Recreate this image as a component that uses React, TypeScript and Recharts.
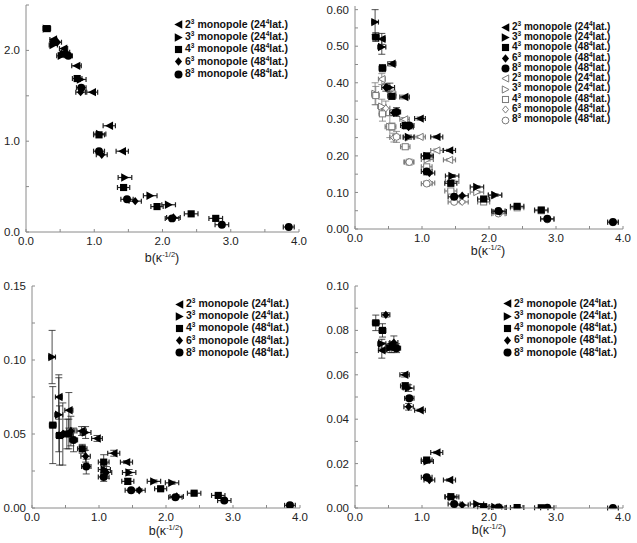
import React from 'react';
import { ScatterChart, Scatter, XAxis, YAxis, ErrorBar, Legend } from 'recharts';

const FONT = '"Liberation Sans", Arial, Helvetica, sans-serif';

// b(kappa^-1/2) positions of each monopole size
const S2_X = [0.40, 0.55, 0.74, 0.97, 1.22, 1.41];
const S3_X = [0.30, 0.40, 0.52, 0.80, 1.08, 1.45, 1.82, 2.09];
const S4_X = [0.31, 0.41, 0.55, 0.75, 1.07, 1.43, 1.92, 2.42, 2.78];
const S6_X = [0.46, 0.58, 0.80, 1.11, 1.60, 2.16];
const S8_X = [0.62, 0.81, 1.07, 1.48, 2.14, 2.87, 3.85];

// horizontal errors
const S2_XE = [0.05, 0.06, 0.07, 0.08, 0.09, 0.09];
const S3_XE = [0.05, 0.06, 0.07, 0.08, 0.09, 0.10, 0.10, 0.10];
const S4_XE = [0.05, 0.05, 0.06, 0.07, 0.08, 0.09, 0.09, 0.10, 0.10];
const S6_XE = [0.06, 0.06, 0.07, 0.08, 0.09, 0.10];
const S8_XE = [0.06, 0.07, 0.08, 0.09, 0.10, 0.10, 0.08];

// Panel 1 (top-left)
const P1_S2 = [2.12, 2.02, 1.83, 1.54, 1.17, 0.89];
const P1_S3 = [2.24, 2.06, 1.94, 1.68, 1.08, 0.60, 0.40, 0.30];
const P1_S4 = [2.24, 2.09, 1.96, 1.69, 1.07, 0.49, 0.28, 0.20, 0.15];
const P1_S6 = [2.09, 1.98, 1.54, 0.85, 0.34, 0.16];
const P1_S8 = [1.94, 1.59, 0.89, 0.36, 0.15, 0.08, 0.055];

// Panel 2 (top-right), filled
const P2_S2 = [0.52, 0.452, 0.361, 0.302, 0.252, 0.215];
const P2_S3 = [0.566, 0.498, 0.387, 0.252, 0.200, 0.145, 0.115, 0.093];
const P2_S4 = [0.525, 0.440, 0.363, 0.283, 0.200, 0.125, 0.082, 0.062, 0.052];
const P2_S6 = [0.387, 0.318, 0.279, 0.153, 0.091, 0.048];
const P2_S8 = [0.320, 0.283, 0.157, 0.088, 0.049, 0.028, 0.019];
const P2_S2_E = [0.015, 0.006, 0.005, 0.004, 0.003, 0.003];
const P2_S3_E = [0.034, 0.020, 0.012, 0.005, 0.004, 0.004, 0.003, 0.003];
const P2_S4_E = [0.012, 0.010, 0.008, 0.005, 0.004, 0.004, 0.003, 0.003, 0.002];
const P2_S6_E = [0.010, 0.008, 0.005, 0.003, 0.002, 0.002];
const P2_S8_E = [0.012, 0.006, 0.004, 0.003, 0.002, 0.002, 0.002];
// Panel 2, hollow
const P2_H2 = [0.41, 0.37, 0.30, 0.252, 0.215, 0.189];
const P2_H3 = [0.37, 0.335, 0.28, 0.25, 0.19, 0.13, 0.101, 0.092];
const P2_H4 = [0.365, 0.315, 0.28, 0.225, 0.170, 0.104, 0.074, 0.058, 0.050];
const P2_H6 = [0.33, 0.25, 0.183, 0.126, 0.074, 0.043];
const P2_H8 = [0.252, 0.183, 0.124, 0.074, 0.042, 0.026, 0.018];
const P2_H2_E = [0.015, 0.010, 0.005, 0.004, 0.004, 0.003];
const P2_H3_E = [0.030, 0.020, 0.030, 0.005, 0.004, 0.004, 0.003, 0.003];
const P2_H4_E = [0.025, 0.020, 0.010, 0.006, 0.004, 0.004, 0.003, 0.003, 0.002];
const P2_H6_E = [0.020, 0.012, 0.005, 0.004, 0.003, 0.002];
const P2_H8_E = [0.015, 0.008, 0.005, 0.003, 0.002, 0.002, 0.002];

// Panel 3 (bottom-left)
const P3_S2 = [0.075, 0.066, 0.052, 0.047, 0.037, 0.031];
const P3_S3 = [0.102, 0.063, 0.050, 0.051, 0.026, 0.024, 0.018, 0.017];
const P3_S4 = [0.056, 0.049, 0.050, 0.040, 0.031, 0.018, 0.013, 0.010, 0.0085];
const P3_S6 = [0.050, 0.052, 0.035, 0.024, 0.012, 0.0078];
const P3_S8 = [0.046, 0.028, 0.021, 0.012, 0.0072, 0.005, 0.0018];
const P3_S2_E = [0.015, 0.012, 0.003, 0.002, 0.002, 0.001];
const P3_S3_E = [0.018, 0.025, 0.010, 0.004, 0.004, 0.002, 0.001, 0.001];
const P3_S4_E = [0.026, 0.020, 0.010, 0.003, 0.005, 0.002, 0.001, 0.001, 0.001];
const P3_S6_E = [0.021, 0.010, 0.004, 0.004, 0.001, 0.001];
const P3_S8_E = [0.008, 0.005, 0.003, 0.001, 0.001, 0.001, 0.001];

// Panel 4 (bottom-right)
const P4_S2 = [0.071, 0.072, 0.060, 0.044, 0.025, 0.0126];
const P4_S3 = [null, 0.074, 0.072, 0.054, 0.021, 0.005, 0.0018, 0.0005];
const P4_S4 = [0.0834, 0.080, 0.073, 0.055, 0.0216, 0.0051, 0.0006, 0.0002, 0.0001];
const P4_S6 = [0.087, 0.0745, 0.0456, 0.0126, 0.0013, 0.0003];
const P4_S8 = [0.072, 0.0494, 0.0138, 0.0018, 0.0002, 0.0001, 0.0];
const P4_S2_E = [0.0035, 0.002, 0.001, 0.0005, 0.0005, 0.0005];
const P4_S3_E = [0, 0.002, 0.002, 0.0015, 0.0005, 0.0005, 0.0003, 0.0003];
const P4_S4_E = [0.0035, 0.003, 0.002, 0.0015, 0.0005, 0.0005, 0.0003, 0.0003, 0.0003];
const P4_S6_E = [0.001, 0.003, 0.0015, 0.0005, 0.0003, 0.0003];
const P4_S8_E = [0.002, 0.001, 0.0005, 0.0003, 0.0003, 0.0003, 0.0003];

// ticks
const X_TICKS = [0, 0.5, 1, 1.5, 2, 2.5, 3, 3.5, 4];
const P1_Y_TICKS = [0, 0.5, 1, 1.5, 2, 2.5];
const P2_Y_TICKS = [0, 0.05, 0.1, 0.15, 0.2, 0.25, 0.3, 0.35, 0.4, 0.45, 0.5, 0.55, 0.6];
const P3_Y_TICKS = [0, 0.025, 0.05, 0.075, 0.1, 0.125, 0.15];
const P4_Y_TICKS = [0, 0.01, 0.02, 0.03, 0.04, 0.05, 0.06, 0.07, 0.08, 0.09, 0.1];

const LEGEND_N = ['2', '3', '4', '6', '8'];
const LEGEND_LAT = ['24', '24', '48', '48', '48'];
const KINDS = ['left', 'right', 'square', 'diamond', 'circle'];

const AXIS = '#8a8a8a';
const HOLLOW = '#7a7a7a';

function zip(xs: number[], ys: (number | null)[], exs: number[], eys?: number[]) {
  const out: any[] = [];
  xs.forEach((x, i) => {
    const y = ys[i];
    if (y == null) return;
    out.push({ x, y, ex: exs[i], ey: eys ? eys[i] : 0 });
  });
  return out;
}

function Marker({ cx, cy, kind, filled, s = 1 }: any) {
  const fill = filled ? '#000' : '#fff';
  const stroke = filled ? 'none' : HOLLOW;
  const sw = 1;
  const r = 4.2 * s;
  switch (kind) {
    case 'left':
      return <polygon points={`${cx - r},${cy} ${cx + r * 0.9},${cy - r} ${cx + r * 0.9},${cy + r}`} fill={fill} stroke={stroke} strokeWidth={sw} />;
    case 'right':
      return <polygon points={`${cx + r},${cy} ${cx - r * 0.9},${cy - r} ${cx - r * 0.9},${cy + r}`} fill={fill} stroke={stroke} strokeWidth={sw} />;
    case 'square':
      return <rect x={cx - r * 0.85} y={cy - r * 0.85} width={r * 1.7} height={r * 1.7} fill={fill} stroke={stroke} strokeWidth={sw} />;
    case 'diamond':
      return <polygon points={`${cx},${cy - r} ${cx + r * 0.85},${cy} ${cx},${cy + r} ${cx - r * 0.85},${cy}`} fill={fill} stroke={stroke} strokeWidth={sw} />;
    default:
      return <circle cx={cx} cy={cy} r={r * 0.95} fill={fill} stroke={stroke} strokeWidth={sw} />;
  }
}

const supStyle: React.CSSProperties = { fontSize: '6.5px', position: 'relative', top: '-4px' };

function LegendBox({ rowH, fontSize, hollow }: any) {
  const rows: any[] = [];
  const sets = hollow ? [true, false] : [true];
  sets.forEach((filled) => {
    LEGEND_N.forEach((n, i) => rows.push({ n, lat: LEGEND_LAT[i], kind: KINDS[i], filled }));
  });
  return (
    <div style={{ fontFamily: FONT, fontWeight: 'bold', fontSize, color: '#111' }}>
      {rows.map((it, i) => (
        <div key={i} style={{ display: 'flex', alignItems: 'center', height: rowH, whiteSpace: 'nowrap', lineHeight: `${rowH}px` }}>
          <svg width={9} height={9} style={{ marginRight: 2.5, overflow: 'visible' }}>
            <Marker cx={4.5} cy={4.5} kind={it.kind} filled={it.filled} s={it.filled ? 1 : 0.85} />
          </svg>
          <span>
            {it.n}
            <span style={supStyle}>3</span> monopole ({it.lat}
            <span style={supStyle}>4</span>lat.)
          </span>
        </div>
      ))}
    </div>
  );
}

function XTitle({ tx, ty }: any) {
  return (
    <text x={tx} y={ty} textAnchor="middle" fontFamily={FONT} fontSize={12.5} fill="#222">
      <tspan>b(κ</tspan>
      <tspan dy={-5} fontSize={7.5}>-1/2</tspan>
      <tspan dy={5}>)</tspan>
    </text>
  );
}

const xFmt = (v: number) => (Math.abs(v - Math.round(v)) < 1e-6 ? v.toFixed(1) : '');
const mkYFmt = (per: number, dec: number, max?: number) => (v: number) => {
  if (max != null && v > max + 1e-9) return '';
  return Math.abs(v * per - Math.round(v * per)) < 1e-6 ? v.toFixed(dec) : '';
};

function Panel(props: any) {
  const { left, top, width, height, margin, yW, xH, yDomain, yTicks, yFmt, series, legend, title } = props;
  const tickStyle = { fontFamily: FONT, fontSize: 11.5, fill: '#222' };
  return (
    <div style={{ position: 'absolute', left, top, width, height }}>
      <ScatterChart width={width} height={height} margin={margin}>
        <XAxis
          dataKey="x"
          type="number"
          domain={[0, 4]}
          ticks={X_TICKS}
          interval={0}
          tickFormatter={xFmt}
          tickSize={-3}
          tickMargin={8}
          height={xH}
          stroke={AXIS}
          tick={tickStyle}
          label={<XTitle tx={title.x} ty={title.y} />}
          allowDataOverflow
        />
        <XAxis
          xAxisId="top"
          orientation="top"
          type="number"
          domain={[0, 4]}
          ticks={X_TICKS}
          interval={0}
          tick={false}
          tickSize={-3}
          height={0}
          stroke={AXIS}
          allowDataOverflow
        />
        <YAxis
          dataKey="y"
          type="number"
          domain={yDomain}
          ticks={yTicks}
          interval={0}
          tickFormatter={yFmt}
          tickSize={-3}
          tickMargin={9}
          width={yW}
          stroke={AXIS}
          tick={tickStyle}
          allowDataOverflow
        />
        <YAxis
          yAxisId="right"
          orientation="right"
          type="number"
          domain={yDomain}
          ticks={yTicks}
          interval={0}
          tick={false}
          tickSize={-3}
          width={0}
          stroke={AXIS}
          allowDataOverflow
        />
        {series.map((s: any, i: number) => {
          const col = s.filled ? '#222' : HOLLOW;
          return (
            <Scatter
              key={i}
              data={s.data}
              isAnimationActive={false}
              shape={(p: any) => <Marker cx={p.cx} cy={p.cy} kind={s.kind} filled={s.filled} s={s.filled ? 1 : 0.85} />}
            >
              <ErrorBar dataKey="ex" direction="x" width={2.5} stroke={col} strokeWidth={1.2} isAnimationActive={false} />
              <ErrorBar dataKey="ey" direction="y" width={3.5} stroke={col} strokeWidth={0.8} isAnimationActive={false} />
            </Scatter>
          );
        })}
        <Legend
          layout="vertical"
          align="center"
          verticalAlign="middle"
          wrapperStyle={{ left: legend.left, top: legend.top, width: 'auto', height: 'auto' }}
          content={() => <LegendBox rowH={legend.rowH} fontSize={legend.fontSize} hollow={legend.hollow} />}
        />
      </ScatterChart>
    </div>
  );
}

function filledSeries(ys: any[], eys?: any[]) {
  const xs = [S2_X, S3_X, S4_X, S6_X, S8_X];
  const xes = [S2_XE, S3_XE, S4_XE, S6_XE, S8_XE];
  return ys.map((y, i) => ({ data: zip(xs[i], y, xes[i], eys ? eys[i] : undefined), kind: KINDS[i], filled: true }));
}
function hollowSeries(ys: any[], eys: any[]) {
  const xs = [S2_X, S3_X, S4_X, S6_X, S8_X];
  const xes = [S2_XE, S3_XE, S4_XE, S6_XE, S8_XE];
  return ys.map((y, i) => ({ data: zip(xs[i], y, xes[i], eys[i]), kind: KINDS[i], filled: false }));
}

export default function App() {
  const p1 = filledSeries([P1_S2, P1_S3, P1_S4, P1_S6, P1_S8]);
  const p2 = [
    ...hollowSeries([P2_H2, P2_H3, P2_H4, P2_H6, P2_H8], [P2_H2_E, P2_H3_E, P2_H4_E, P2_H6_E, P2_H8_E]),
    ...filledSeries([P2_S2, P2_S3, P2_S4, P2_S6, P2_S8], [P2_S2_E, P2_S3_E, P2_S4_E, P2_S6_E, P2_S8_E]),
  ];
  const p3 = filledSeries([P3_S2, P3_S3, P3_S4, P3_S6, P3_S8], [P3_S2_E, P3_S3_E, P3_S4_E, P3_S6_E, P3_S8_E]);
  const p4 = filledSeries([P4_S2, P4_S3, P4_S4, P4_S6, P4_S8], [P4_S2_E, P4_S3_E, P4_S4_E, P4_S6_E, P4_S8_E]);
  return (
    <div style={{ position: 'absolute', left: 0, top: 0, width: 637, height: 543, background: '#fff' }}>
      <Panel
        left={0} top={0} width={318} height={270}
        margin={{ top: 5, right: 19, bottom: 0, left: 0 }}
        yW={26} xH={38}
        yDomain={[0, 2.5]} yTicks={P1_Y_TICKS} yFmt={mkYFmt(1, 1, 2)}
        series={p1} title={{ x: 162, y: 262 }}
        legend={{ left: 173.5, top: 18.8, rowH: 12.3, fontSize: 10.5, hollow: false }}
      />
      <Panel
        left={318} top={0} width={319} height={270}
        margin={{ top: 6, right: 14, bottom: 0, left: 0 }}
        yW={37} xH={41}
        yDomain={[0, 0.61]} yTicks={P2_Y_TICKS} yFmt={mkYFmt(10, 2)}
        series={p2} title={{ x: 170, y: 255 }}
        legend={{ left: 182.5, top: 22.2, rowH: 10.3, fontSize: 10, hollow: true }}
      />
      <Panel
        left={0} top={270} width={318} height={273}
        margin={{ top: 16, right: 18, bottom: 0, left: 0 }}
        yW={32} xH={35}
        yDomain={[0, 0.15]} yTicks={P3_Y_TICKS} yFmt={mkYFmt(20, 2)}
        series={p3} title={{ x: 166, y: 265 }}
        legend={{ left: 174.5, top: 28.3, rowH: 12.1, fontSize: 10.5, hollow: false }}
      />
      <Panel
        left={318} top={270} width={319} height={273}
        margin={{ top: 16, right: 14, bottom: 0, left: 0 }}
        yW={37} xH={35}
        yDomain={[0, 0.1]} yTicks={P4_Y_TICKS} yFmt={mkYFmt(50, 2)}
        series={p4} title={{ x: 171, y: 264 }}
        legend={{ left: 184.5, top: 27.9, rowH: 12.2, fontSize: 10.5, hollow: false }}
      />
    </div>
  );
}
